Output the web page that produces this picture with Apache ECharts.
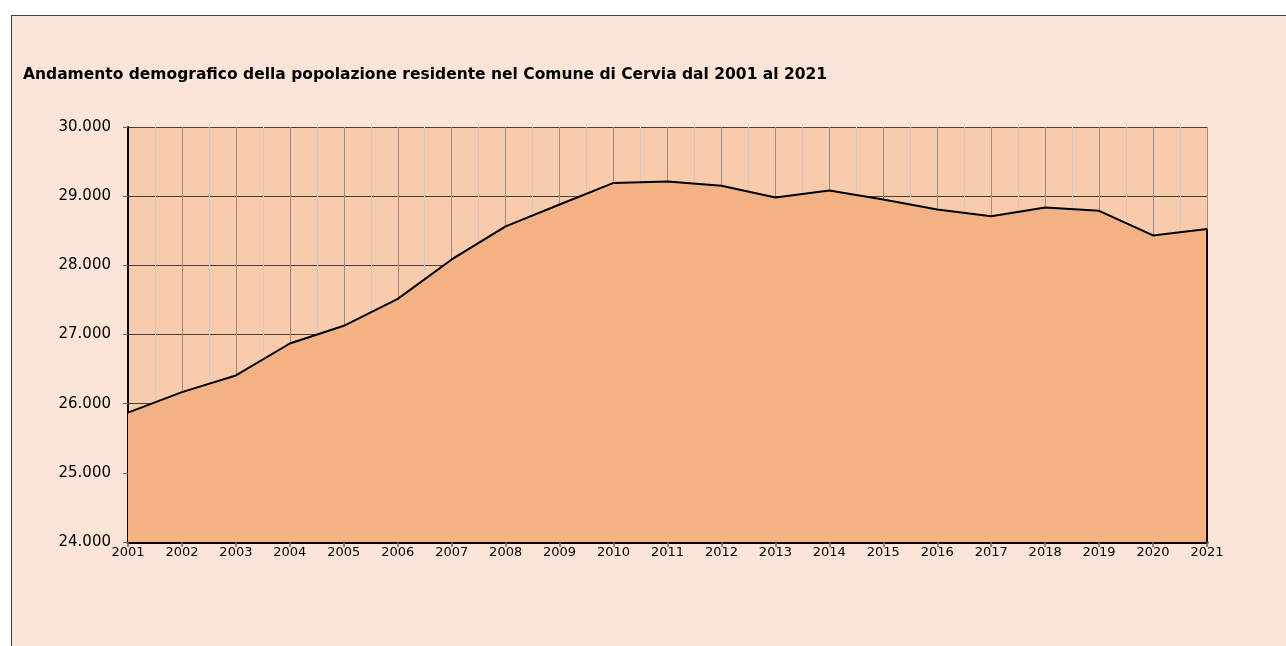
<!DOCTYPE html>
<html>
<head>
<meta charset="utf-8">
<script src="https://cdn.jsdelivr.net/npm/echarts@6/dist/echarts.min.js"></script>
<style>
  body { margin: 0; background: #ffffff; }
  #cornice { position: absolute; left: 11px; top: 15px; width: 1300px; height: 700px;
             border: 1px solid #404040; background: #FAE5D8; }
  #grafico { position: absolute; left: 0; top: 0; width: 1286px; height: 646px; }
</style>
</head>
<body>
<div id="cornice"></div>
<div id="grafico"></div>
<script>
// DATI
var anni = [2001, 2002, 2003, 2004, 2005, 2006, 2007, 2008, 2009, 2010, 2011,
            2012, 2013, 2014, 2015, 2016, 2017, 2018, 2019, 2020, 2021];
var popolazione = [25870, 26167, 26408, 26870, 27126, 27515, 28085, 28563, 28880, 29192, 29212,
                   29150, 28981, 29083, 28952, 28807, 28711, 28835, 28788, 28432, 28525];
var yMin = 24000, yMax = 30000, yPasso = 1000;
var titolo = 'Andamento demografico della popolazione residente nel Comune di Cervia dal 2001 al 2021';

// punti [anno, valore]
var punti = [];
for (var i = 0; i < anni.length; i++) {
    punti.push([anni[i], popolazione[i]]);
}
var ultimo = anni.length - 1;

function migliaia(v) {
    return String(v).replace(/\B(?=(\d{3})+(?!\d))/g, '.');
}

var font = 'DejaVu Sans, sans-serif';
var myChart = echarts.init(document.getElementById('grafico'), null, {renderer: 'canvas'});

var option = {
    animation: false,
    backgroundColor: 'transparent',
    title: {
        text: titolo,
        left: 18,
        top: 62,
        textStyle: { fontFamily: font, fontSize: 15.5, fontWeight: 'bold', color: '#000' }
    },
    grid: {
        left: 128, top: 127, right: 79, bottom: 104,
        show: true, backgroundColor: '#F8CBAD', borderWidth: 0
    },
    xAxis: {
        type: 'value',
        min: anni[0], max: anni[ultimo], interval: 1,
        axisLine: { show: true, lineStyle: { color: '#000', width: 3 } },
        axisTick: { show: true, length: 5, lineStyle: { color: '#666', width: 1.5 } },
        axisLabel: {
            fontFamily: font, fontSize: 13, color: '#000', margin: 4,
            formatter: function (v) { return String(v); }
        },
        splitLine: { show: true, lineStyle: { color: '#9a8a80', width: 1 } },
        minorTick: { show: false, splitNumber: 2 },
        minorSplitLine: { show: true, lineStyle: { color: '#d6c8c4', width: 1 } }
    },
    yAxis: {
        type: 'value',
        min: yMin, max: yMax, interval: yPasso,
        axisLine: { show: true, lineStyle: { color: '#000', width: 2 } },
        axisTick: { show: true, length: 5, lineStyle: { color: '#666', width: 1 } },
        axisLabel: {
            fontFamily: font, fontSize: 15, color: '#000', margin: 17,
            formatter: function (v) { return migliaia(v); }
        },
        splitLine: { show: true, lineStyle: { color: '#4a4038', width: 1 } }
    },
    series: [{
        name: 'popolazione',
        type: 'line',
        data: punti,
        showSymbol: false,
        symbol: 'none',
        lineStyle: { color: '#000', width: 2 },
        areaStyle: { color: '#F4B183', opacity: 1 },
        markLine: {
            silent: true,
            symbol: 'none',
            label: { show: false },
            lineStyle: { color: '#000', width: 2, type: 'solid' },
            data: [[
                { coord: [anni[ultimo], popolazione[ultimo]] },
                { coord: [anni[ultimo], yMin] }
            ]]
        }
    }]
};
myChart.setOption(option);
</script>
</body>
</html>
